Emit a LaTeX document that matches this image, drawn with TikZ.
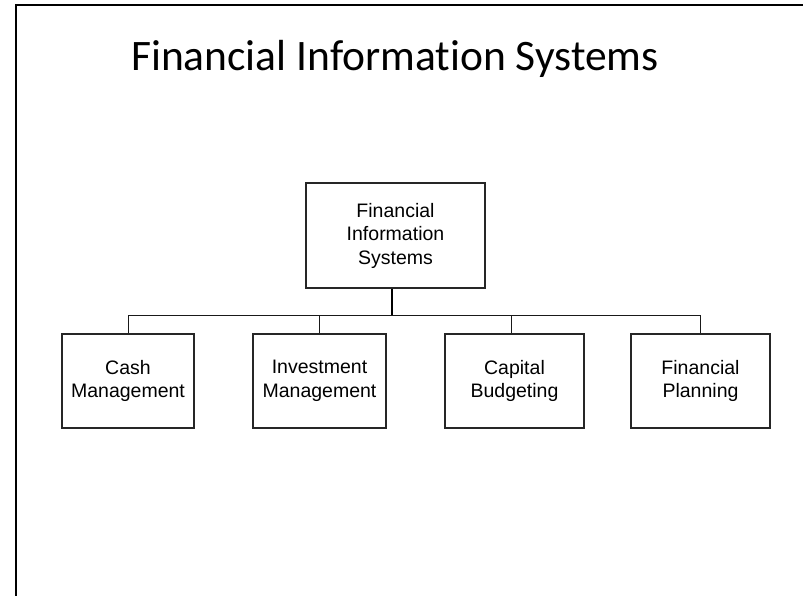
\documentclass[tikz,border=0pt]{standalone}
\usepackage{fontspec}
\setmainfont{Liberation Sans}
\newfontfamily\titlefont[Ligatures=NoCommon]{Carlito}
\usetikzlibrary{calc}
\begin{document}
\begin{tikzpicture}[x=1pt,y=-1pt,
  box/.style={draw=black!85, line width=1.1pt, align=center, inner sep=0pt,
    font=\fontsize{19.5}{23.5}\selectfont},
  link/.style={draw=black!90, line width=0.9pt},
  stem/.style={draw=black, line width=2pt}]
\useasboundingbox (0,0) rectangle (803,596);
\draw[line width=2pt] (16,596) -- (16,5) -- (803,5);
\node[font=\titlefont\fontsize{43.5}{50}\selectfont, anchor=base, inner sep=0pt] (title) at (395,71) {Financial Information Systems};
\node[box, minimum width=179pt, minimum height=105pt] (main) at (395.5,235.5) {Financial\\Information\\Systems};
\node[box, minimum width=132pt, minimum height=94pt] (cash) at (128,381) {Cash\\Management};
\node[box, minimum width=133pt, minimum height=94pt] (inv) at (319.5,381) {Investment\\Management};
\node[box, minimum width=139pt, minimum height=94pt] (cap) at (514.5,381) {Capital\\Budgeting};
\node[box, minimum width=139pt, minimum height=94pt] (plan) at (700.5,381) {Financial\\Planning};
\coordinate (bus) at (392,315.5);
\draw[stem] (main.south -| bus) -- (bus);
\draw[link] (cash.north |- bus) -- (plan.north |- bus);
\draw[link] (cash.north) -- (cash.north |- bus);
\draw[link] (inv.north) -- (inv.north |- bus);
\draw[link] ($(cap.north)+(-3.5,0)$) -- ($(cap.north |- bus)+(-3.5,0)$);
\draw[link] (plan.north) -- (plan.north |- bus);
\end{tikzpicture}
\end{document}
